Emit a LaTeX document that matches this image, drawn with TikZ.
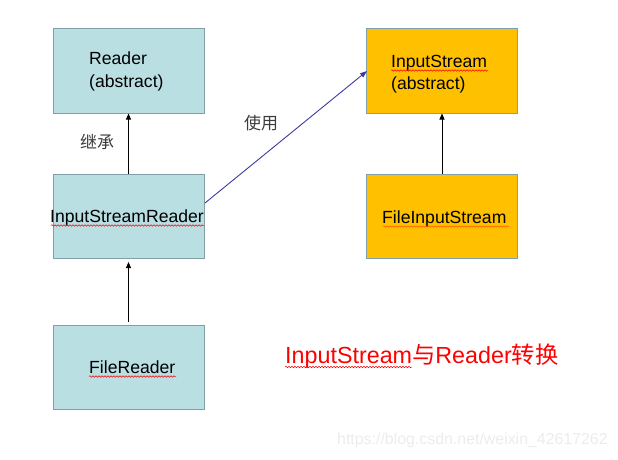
\documentclass[tikz,border=0pt]{standalone}
\usepackage{fontspec}
\setmainfont{Liberation Sans}
\newfontfamily\cjk{Noto Sans CJK SC}
\usetikzlibrary{arrows.meta,decorations.pathmorphing}
\definecolor{boxblue}{RGB}{185,223,227}
\definecolor{boxorange}{RGB}{255,192,0}
\definecolor{boxline}{RGB}{130,160,168}
\definecolor{useblue}{RGB}{60,60,160}
\definecolor{lblgray}{RGB}{60,60,60}
\definecolor{wmgray}{RGB}{236,236,236}
\tikzset{
  bluebox/.style={draw=boxline, fill=boxblue, line width=1pt, minimum width=151pt, minimum height=84pt, inner sep=0pt},
  orangebox/.style={draw=boxline, fill=boxorange, line width=1pt, minimum width=151pt, minimum height=84pt, inner sep=0pt},
  boxtext/.style={font=\fontsize{17.6}{20}\selectfont, inner sep=0pt, anchor=base west},
  inherit/.style={-{Triangle[length=6pt,width=5pt]}, line width=0.9pt, black},
  useline/.style={-{Triangle[length=7pt,width=5pt]}, line width=0.9pt, useblue},
  lbl/.style={font=\cjk\fontsize{17}{19}\selectfont, text=lblgray, inner sep=0pt},
  spell/.style={red, line width=0.5pt, decorate, decoration={snake, amplitude=0.8pt, segment length=3pt}}
}
\begin{document}
\begin{tikzpicture}[x=1pt,y=-1pt]
\useasboundingbox (0,0) rectangle (618,460);
% boxes
\node[bluebox] (reader) at (128.5,71) {};
\node[bluebox] (isr) at (128.5,216.5) {};
\node[bluebox] (fr) at (128.5,367.5) {};
\node[orangebox] (is) at (442,71) {};
\node[orangebox] (fis) at (442,216.5) {};
% texts
\node[boxtext] (t1) at (89,65) {Reader};
\node[boxtext] (t2) at (89,87) {(abstract)};
\node[boxtext] (t3) at (391,67) {InputStream};
\node[boxtext] (t4) at (391,89) {(abstract)};
\node[boxtext] (t5) at (50,222) {InputStreamReader};
\node[boxtext] (t6) at (89,373) {FileReader};
\node[boxtext] (t7) at (382,223) {FileInputStream};
% spell-check underlines
\draw[spell] (51,225.5) -- (204,225.5);
\draw[spell] (391,70.5) -- (488,70.5);
\draw[spell, orange!70!red] (383,226.5) -- (509,226.5);
\draw[spell] (89,376.5) -- (176,376.5);
\draw[spell] (285,367) -- (412,367);
% connectors
\draw[inherit] (isr.north) -- (reader.south);
\draw[inherit, shorten <=3pt, shorten >=3pt] (fr.north) -- (isr.south);
\draw[inherit] (fis.north) -- (is.south);
\coordinate (useS) at (205,203);
\coordinate (useE) at (367,71);
\draw[useline] (useS) -- (useE);
% labels
\node[lbl] (l1) at (97,142) {继承};
\node[lbl] (l2) at (261,123) {使用};
% title
\node[font=\fontsize{23.3}{26}\selectfont, text=red, inner sep=0pt, anchor=base west] (title) at (285,363) {InputStream{\cjk 与}Reader{\cjk 转换}};
% watermark
\node[font=\fontsize{15.9}{18}\selectfont, text=wmgray, inner sep=0pt, anchor=base west] (wm) at (337,444.5) {https://blog.csdn.net/weixin\_42617262};
\end{tikzpicture}
\end{document}
